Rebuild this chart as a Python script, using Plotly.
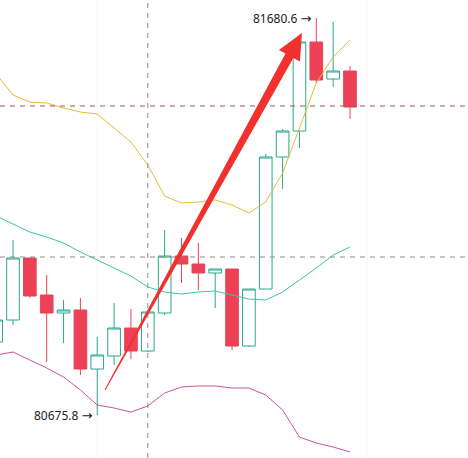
"""Candlestick chart with Bollinger bands and a trend arrow (Plotly)."""

import plotly.graph_objects as go

# ── Data ────────────────────────────────────────────────────────────

candle_idx = list(range(22))

open_px = [80860.6, 80916.2, 81073.2, 80979.5, 80934.0, 80941.6, 80792.2, 80825.1,
           80896.0, 80837.8, 80934.0, 81078.2, 81058.0, 81035.2, 81045.3, 80850.4,
           80994.7, 81328.8, 81394.6, 81619.9, 81526.2, 81546.5]
high_px = [80926.4, 81118.7, 81073.2, 81030.1, 80966.9, 80971.9, 80873.2, 80959.3,
           80944.1, 80936.5, 81144.0, 81123.8, 81111.1, 81045.3, 81045.3, 80994.7,
           81336.4, 81399.7, 81619.9, 81680.6, 81670.5, 81559.1]
low_px = [80835.2, 80903.6, 80971.9, 80809.9, 80858.0, 80777.0, 80675.8, 80802.3,
          80817.5, 80835.2, 80928.9, 81009.9, 80992.2, 80946.6, 80840.3, 80847.9,
          80994.7, 81247.8, 81351.6, 81516.1, 81506.0, 81425.0]
close_px = [80916.2, 81073.2, 80977.0, 80934.0, 80941.6, 80792.2, 80827.7, 80896.0,
            80837.8, 80936.5, 81078.2, 81058.0, 81035.2, 81045.3, 80850.4, 80994.7,
            81328.8, 81394.6, 81619.9, 81523.7, 81546.5, 81455.3]

boll_upper = [81538.9, 81485.7, 81468.0, 81465.5, 81452.8, 81442.7, 81437.6, 81402.2,
              81366.8, 81308.5, 81230.1, 81212.4, 81214.9, 81220.0, 81207.3, 81187.1,
              81214.9, 81288.3, 81402.2, 81516.1, 81581.9, 81624.9]
boll_mid = [81179.5, 81159.2, 81139.0, 81126.3, 81111.1, 81088.4, 81068.1, 81047.9,
            81027.6, 80999.8, 80987.1, 80982.0, 80987.1, 80989.6, 80979.5, 80969.4,
            80966.9, 80987.1, 81017.5, 81047.9, 81080.8, 81101.0]
boll_lower = [80827.7, 80835.2, 80815.0, 80794.8, 80772.0, 80739.1, 80701.1, 80693.5,
              80683.4, 80698.6, 80731.5, 80746.7, 80749.2, 80749.2, 80744.1, 80744.1,
              80726.4, 80688.5, 80620.1, 80604.9, 80594.8, 80582.2]

# crosshair / reference levels
cross_x = 9
level_top = 81457.9
level_mid = 81075.7
grid_x = [6, 22]

# trend arrow: (index, price) of tail and tip
arrow_tail = (6.46, 80739.1)
arrow_tip = (18.15, 81642.6)

# ── Styling ─────────────────────────────────────────────────────────

W, H = 468, 458
X_RANGE = [0.2285, 28.003]
Y_RANGE = [80567.0, 81726.2]

UP = "#27A98C"
DOWN = "#EC4156"
ARROW = "#F2302E"


def to_px(i, p):
    x = (i - X_RANGE[0]) / (X_RANGE[1] - X_RANGE[0]) * W
    y = (Y_RANGE[1] - p) / (Y_RANGE[1] - Y_RANGE[0]) * H
    return x, y


def to_data(x, y):
    i = X_RANGE[0] + x / W * (X_RANGE[1] - X_RANGE[0])
    p = Y_RANGE[1] - y / H * (Y_RANGE[1] - Y_RANGE[0])
    return i, p


def arrow_path(tail, tip, head_len=26, head_half=12, w0=0.5, w1=4.5):
    tx, ty = to_px(*tail)
    px, py = to_px(*tip)
    dx, dy = px - tx, py - ty
    ln = (dx * dx + dy * dy) ** 0.5
    ux, uy = dx / ln, dy / ln
    nx, ny = -uy, ux
    bx, by = px - ux * head_len, py - uy * head_len
    pts = [
        (tx + nx * w0, ty + ny * w0),
        (bx + nx * w1, by + ny * w1),
        (bx + nx * head_half, by + ny * head_half),
        (px, py),
        (bx - nx * head_half, by - ny * head_half),
        (bx - nx * w1, by - ny * w1),
        (tx - nx * w0, ty - ny * w0),
    ]
    d = [to_data(x, y) for x, y in pts]
    return "M " + " L ".join(f"{a},{b}" for a, b in d) + " Z"


fig = go.Figure()

fig.add_trace(go.Scatter(x=candle_idx, y=boll_upper, mode="lines",
                         line=dict(color="#E6BA36", width=1), hoverinfo="skip"))
fig.add_trace(go.Scatter(x=candle_idx, y=boll_mid, mode="lines",
                         line=dict(color="#3EC4A6", width=1), hoverinfo="skip"))
fig.add_trace(go.Scatter(x=candle_idx, y=boll_lower, mode="lines",
                         line=dict(color="#C8569C", width=1), hoverinfo="skip"))

fig.add_trace(go.Candlestick(
    x=candle_idx, open=open_px, high=high_px, low=low_px, close=close_px,
    increasing=dict(line=dict(color=UP, width=1), fillcolor="#FFFFFF"),
    decreasing=dict(line=dict(color=DOWN, width=1), fillcolor=DOWN),
    whiskerwidth=0,
))

shapes = []
for gx in grid_x:
    shapes.append(dict(type="line", xref="x", yref="paper", x0=gx, x1=gx, y0=0, y1=1,
                       line=dict(color="#F5F5F5", width=1), layer="below"))
shapes += [
    dict(type="line", xref="paper", yref="y", x0=0, x1=1, y0=level_top, y1=level_top,
         line=dict(color="#9C5560", width=1, dash="5px,5px")),
    dict(type="line", xref="paper", yref="y", x0=0, x1=1, y0=level_mid, y1=level_mid,
         line=dict(color="#8A8A8A", width=1, dash="5px,5px")),
    dict(type="line", xref="x", yref="paper", x0=cross_x, x1=cross_x, y0=0, y1=1,
         line=dict(color="#8A8A8A", width=1, dash="5px,5px")),
    dict(type="path", xref="x", yref="y", path=arrow_path(arrow_tail, arrow_tip),
         fillcolor=ARROW, line=dict(width=0)),
]

# max / min labels
ARR = "<span style='font-family:DejaVu Sans;font-size:13px'>→</span>"
hi_i = high_px.index(max(high_px))
lo_i = low_px.index(min(low_px))
annotations = [
    dict(x=candle_idx[hi_i], y=high_px[hi_i], text=f"{high_px[hi_i]:.1f} {ARR}",
         xanchor="right", yanchor="middle", xshift=-2, showarrow=False,
         font=dict(size=12, color="#222222")),
    dict(x=candle_idx[lo_i], y=low_px[lo_i], text=f"{low_px[lo_i]:.1f} {ARR}",
         xanchor="right", yanchor="middle", xshift=-2, showarrow=False,
         font=dict(size=12, color="#222222")),
]

fig.update_layout(
    width=W, height=H,
    margin=dict(l=0, r=0, t=0, b=0),
    paper_bgcolor="#FFFFFF",
    plot_bgcolor="#FFFFFF",
    showlegend=False,
    font=dict(family="Noto Sans, sans-serif"),
    boxgap=0.25,
    boxgroupgap=0,
    shapes=shapes,
    annotations=annotations,
    xaxis=dict(range=X_RANGE, visible=False, rangeslider=dict(visible=False)),
    yaxis=dict(range=Y_RANGE, visible=False),
)

fig.write_html("out.html", config={"displayModeBar": False},
               post_script="document.body.style.margin='0';")
